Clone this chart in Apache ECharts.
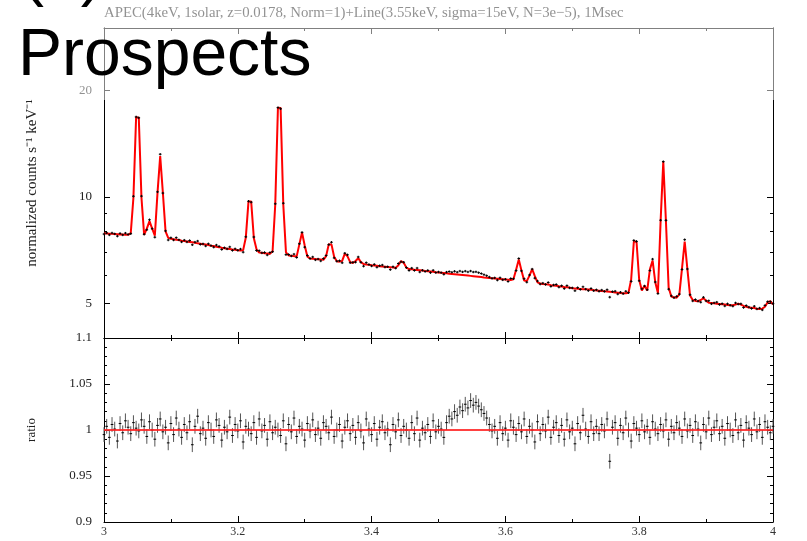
<!DOCTYPE html>
<html><head><meta charset="utf-8">
<script src="https://cdn.jsdelivr.net/npm/echarts@6/dist/echarts.min.js"></script>
<style>html,body{margin:0;padding:0;background:#fff}#c{width:807px;height:541px}</style>
</head><body><div id="c"></div>
<script>
// energy bin grid (keV)
const eStart = 3.0, eStep = 0.004;
// model (normalized counts s^-1 keV^-1), one per bin
const modelCounts = [
7.90,7.89,7.88,7.87,7.86,7.85,7.84,7.84,7.83,7.82,
7.91,9.97,16.80,16.75,9.95,7.82,8.14,8.55,8.14,7.78,
10.29,13.05,10.28,8.00,7.67,7.62,7.60,7.58,7.56,7.53,
7.51,7.49,7.47,7.45,7.43,7.40,7.38,7.36,7.34,7.32,
7.29,7.27,7.24,7.22,7.19,7.17,7.15,7.13,7.11,7.10,
7.08,7.06,7.08,7.69,9.72,9.71,7.65,7.12,6.97,6.96,
6.94,6.93,6.91,7.03,9.54,17.88,17.85,9.51,6.98,6.84,
6.83,6.81,6.80,7.35,7.94,7.30,6.79,6.71,6.70,6.68,
6.67,6.66,6.65,6.81,7.36,7.35,6.78,6.59,6.57,6.60,
6.92,6.80,6.55,6.51,6.60,6.72,6.55,6.47,6.45,6.44,
6.42,6.41,6.40,6.38,6.37,6.36,6.35,6.34,6.32,6.31,
6.42,6.60,6.52,6.32,6.26,6.25,6.23,6.22,6.21,6.20,
6.18,6.17,6.16,6.15,6.13,6.12,6.11,6.10,6.09,6.07,
6.06,6.05,6.04,6.03,6.02,6.01,6.00,5.99,5.98,5.97,
5.96,5.95,5.93,5.92,5.91,5.90,5.89,5.88,5.87,5.86,
5.85,5.84,5.83,5.86,6.23,6.66,6.20,5.81,5.79,6.00,
6.26,5.98,5.74,5.70,5.68,5.67,5.66,5.64,5.63,5.62,
5.60,5.59,5.57,5.56,5.55,5.53,5.52,5.51,5.50,5.49,
5.49,5.48,5.47,5.46,5.45,5.44,5.43,5.42,5.41,5.40,
5.39,5.38,5.37,5.36,5.35,5.35,5.37,5.85,7.49,7.48,
5.83,5.45,5.62,5.45,6.25,6.62,5.75,5.36,8.55,12.60,
8.50,5.55,5.24,5.21,5.20,5.31,6.29,7.49,6.27,5.27,
5.12,5.09,5.08,5.12,5.18,5.10,5.03,5.02,5.01,5.00,
4.99,4.98,4.97,4.96,4.95,4.95,4.97,5.00,4.97,4.93,
4.90,4.88,4.87,4.86,4.84,4.83,4.84,4.90,5.05,5.08,
4.98];
// data / model ratio, one per bin
const ratioValues = [
0.995,1.004,0.992,1.006,1.001,0.988,1.007,0.997,1.010,1.003,
0.996,1.008,1.002,0.999,1.011,1.004,0.993,1.009,1.000,0.990,
1.005,1.012,0.998,1.003,0.986,1.007,0.995,1.013,1.001,0.992,
1.006,0.997,1.009,0.984,1.004,1.015,0.996,1.002,0.991,1.008,
1.000,0.993,1.011,1.005,0.989,1.003,0.998,1.014,0.994,1.006,
0.999,1.010,0.987,1.004,1.001,0.996,1.008,0.992,1.012,0.999,
1.005,0.990,1.009,0.997,1.003,1.000,0.994,1.010,0.985,1.006,
0.998,1.013,0.993,1.004,1.001,0.989,1.007,0.999,1.011,0.995,
1.002,0.991,1.008,1.004,0.997,1.014,0.993,1.000,1.006,0.988,
1.003,1.010,0.996,1.005,0.992,1.008,0.999,0.986,1.012,1.001,
0.995,1.007,0.990,1.003,1.009,0.997,1.001,0.984,1.006,0.998,
1.011,0.994,1.004,1.000,0.991,1.008,0.996,1.013,0.989,1.002,
0.997,1.006,0.993,1.010,0.998,1.004,1.001,0.992,1.008,1.015,
1.012,1.020,1.016,1.025,1.021,1.028,1.024,1.032,1.027,1.030,
1.026,1.022,1.018,1.013,1.006,0.999,1.004,0.991,1.008,0.996,
1.002,0.989,1.010,1.003,0.995,1.007,0.998,1.012,0.993,1.004,
1.000,0.987,1.009,0.996,1.006,0.999,1.014,0.992,1.003,1.008,
0.994,1.005,0.990,1.011,0.998,1.002,0.985,1.007,0.997,1.016,
1.001,0.993,1.009,0.996,1.004,0.996,1.006,0.999,1.012,0.966,
1.003,1.008,0.991,1.005,0.997,1.013,1.000,0.988,1.007,1.002,
0.995,1.010,0.998,1.004,0.992,1.009,1.001,0.996,1.006,0.999,
1.011,0.990,1.004,0.997,1.008,1.002,0.993,1.012,0.999,1.005,
0.994,1.009,1.001,0.986,1.006,0.998,1.013,0.995,1.003,1.010,
0.996,1.004,0.991,1.007,1.000,0.994,1.011,0.997,1.005,0.989,
1.008,1.002,0.995,1.012,0.998,1.006,0.992,1.009,1.003,0.997,
1.004];
const ratioErr = 0.008;          // 1-sigma relative error per bin
const refLineX = [3, 4];          // model ratio reference line
const refLineY = [1, 1];
const countTicks = [5, 10, 20];
const countMinorTicks = [4, 6, 7, 8, 9, 30];
const countRange = [4, 30];
const ratioRange = [0.9, 1.1];
const energyRange = [3, 4];
const titleText = 'APEC(4keV, 1solar, z=0.0178, Norm=1)+Line(3.55keV, sigma=15eV, N=3e\u22125), 1Msec';

const L = Math.log10;
const energies = modelCounts.map((_, i) => +(eStart + i * eStep).toFixed(3));
const modelLine = energies.map((e, i) => [e, L(modelCounts[i])]);
const dataPts = energies.map((e, i) => {
  const d = modelCounts[i] * ratioValues[i], er = modelCounts[i] * ratioErr;
  return [e, L(d), L(d - er), L(d + er)];
});
const ratioPts = energies.map((e, i) => [e, ratioValues[i], ratioValues[i] - ratioErr, ratioValues[i] + ratioErr]);

function errRender(barColor) {
  return function (params, api) {
    const x = api.value(0);
    const c = api.coord([x, api.value(1)]);
    const lo = api.coord([x, api.value(2)]);
    const hi = api.coord([x, api.value(3)]);
    const hw = api.size([eStep, 0])[0] / 2;
    return { type: 'group', children: [
      { type: 'line', shape: { x1: c[0], y1: lo[1], x2: c[0], y2: hi[1] }, style: { stroke: barColor, lineWidth: 1 } },
      { type: 'line', shape: { x1: c[0] - hw, y1: c[1], x2: c[0] + hw, y2: c[1] }, style: { stroke: '#000', lineWidth: 1 } }
    ]};
  };
}

const FONT = 'Liberation Serif';
const black = { color: '#000', width: 1 };
function xAx(grid, pos, labels) {
  return { gridIndex: grid, type: 'value', position: pos, min: energyRange[0], max: energyRange[1], interval: 0.2,
    axisLine: { show: true, onZero: false, lineStyle: black },
    axisTick: { show: true, inside: true, length: 6, lineStyle: black },
    minorTick: { show: true, splitNumber: 2, length: 3, lineStyle: black },
    axisLabel: { show: labels, margin: 4, fontFamily: FONT, fontSize: 12, color: '#333', showMinLabel: true, showMaxLabel: true,
      formatter: v => String(+v.toFixed(1)) },
    splitLine: { show: false } };
}
function logY(pos, values, len, labels, name) {
  const ax = { gridIndex: 0, type: 'value', position: pos, min: L(countRange[0]), max: L(countRange[1]),
    axisLine: { show: labels !== null, onZero: false, lineStyle: black },
    axisTick: { show: true, inside: true, length: len, lineStyle: black, customValues: values.map(L) },
    axisLabel: { show: !!labels, margin: 12, fontFamily: FONT, fontSize: 13, color: '#222',
      customValues: values.map(L), formatter: v => String(Math.round(Math.pow(10, v))) },
    splitLine: { show: false } };
  if (name) {
    ax.name = name; ax.nameLocation = 'middle'; ax.nameGap = 64;
    ax.nameTextStyle = { fontFamily: FONT, fontSize: 15, color: '#222' };
  }
  return ax;
}
function ratioY(pos, labels, name) {
  const ax = { gridIndex: 1, type: 'value', position: pos, min: ratioRange[0], max: ratioRange[1], interval: 0.05,
    axisLine: { show: true, onZero: false, lineStyle: black },
    axisTick: { show: true, inside: true, length: 6, lineStyle: black },
    minorTick: { show: true, splitNumber: 5, length: 3, lineStyle: black },
    axisLabel: { show: labels, margin: 12, fontFamily: FONT, fontSize: 13, color: '#222', showMinLabel: true, showMaxLabel: true,
      formatter: v => String(+v.toFixed(2)) },
    splitLine: { show: false } };
  if (name) {
    ax.name = name; ax.nameLocation = 'middle'; ax.nameGap = 66;
    ax.nameTextStyle = { fontFamily: FONT, fontSize: 13, color: '#222' };
  }
  return ax;
}

const chart = echarts.init(document.getElementById('c'), null, { renderer: 'canvas' });
chart.setOption({
  animation: false,
  backgroundColor: '#fff',
  title: { text: titleText, left: 104, top: 6, padding: 0, textStyle: { fontFamily: FONT, fontSize: 14.8, fontWeight: 'normal', color: '#222' } },
  grid: [
    { left: 104, right: 34, top: 28, height: 310 },
    { left: 104, right: 34, top: 338, height: 184 }
  ],
  xAxis: [ xAx(0, 'bottom', false), xAx(0, 'top', false), xAx(1, 'bottom', true), xAx(1, 'top', false) ],
  yAxis: [
    logY('left', countTicks, 6, true, 'normalized counts s\u207B\u00B9 keV\u207B\u00B9'),
    logY('left', countMinorTicks, 3, false),
    logY('right', countTicks, 6, false),
    logY('right', countMinorTicks, 3, false),
    ratioY('left', true, 'ratio'),
    ratioY('right', false)
  ],
  series: [
    { type: 'line', xAxisIndex: 0, yAxisIndex: 0, data: modelLine, showSymbol: false, symbol: 'none',
      lineStyle: { color: '#ff0000', width: 2 }, z: 2 },
    { type: 'custom', xAxisIndex: 0, yAxisIndex: 0, data: dataPts, renderItem: errRender('#000'),
      encode: { x: 0, y: 1 }, z: 3 },
    { type: 'custom', xAxisIndex: 2, yAxisIndex: 4, data: ratioPts, renderItem: errRender('#555'),
      encode: { x: 0, y: 1 }, z: 2 },
    { type: 'line', xAxisIndex: 2, yAxisIndex: 4, data: refLineX.map((x, i) => [x, refLineY[i]]), showSymbol: false, symbol: 'none',
      lineStyle: { color: '#ff2020', width: 2, opacity: 0.85 }, z: 3 }
  ],
  graphic: [
    { type: 'rect', silent: true, z: 100, shape: { x: 0, y: 0, width: 807, height: 100 }, style: { fill: 'rgba(255,255,255,0.5)' } },
    { type: 'text', z: 101, x: 18, y: 24, style: { text: 'Prospects', font: '66px "Liberation Sans"', fill: '#000' } },
    { type: 'text', z: 101, x: 22, y: -58, style: { text: '(4)', font: '66px "Liberation Sans"', fill: '#000' } }
  ]
});
</script></body></html>
